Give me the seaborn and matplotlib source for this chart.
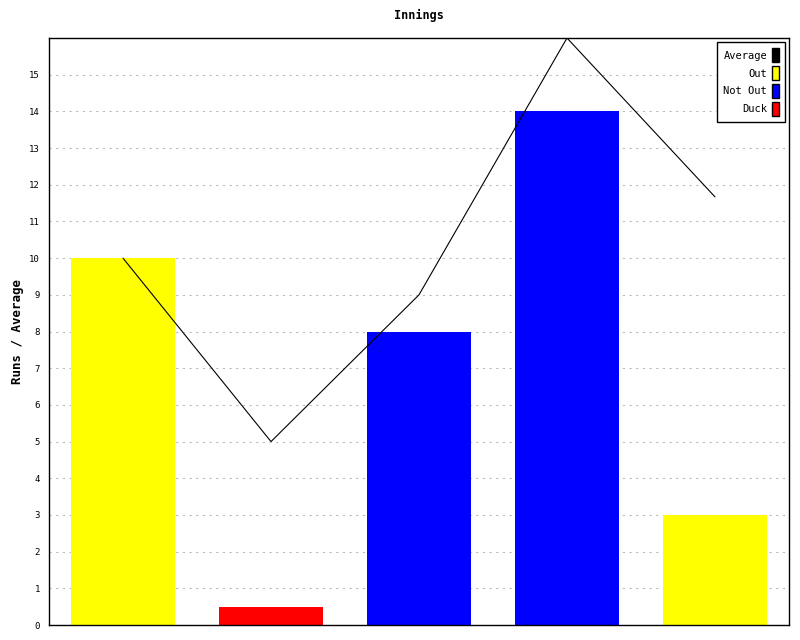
import pandas as pd
import matplotlib
matplotlib.use("Agg")
import matplotlib.pyplot as plt
import matplotlib.patches as mpatches
import seaborn as sns

# innings data
innings = ["1", "2", "3", "4", "5"]
runs = [10, 0.5, 8, 14, 3]
status = ["Out", "Duck", "Not Out", "Not Out", "Out"]
average = [10, 5, 9, 16, 11.67]

colors = {"Out": "#ffff00", "Not Out": "#0000ff", "Duck": "#ff0000"}

df = pd.DataFrame({"Innings": innings, "Runs": runs, "Status": status, "Average": average})

sns.set_style("white")
plt.rcParams["font.family"] = ["DejaVu Sans Mono"]
plt.rcParams["text.color"] = "black"
plt.rcParams["axes.labelcolor"] = "black"
plt.rcParams["ytick.color"] = "black"

fig = plt.figure(figsize=(8, 6.4), dpi=100)
ax = fig.add_axes([0.06125, 0.0234, 0.925, 0.9172])

sns.barplot(data=df, x="Innings", y="Runs", hue="Status", palette=colors,
            dodge=False, width=0.7, saturation=1, legend=False, linewidth=0, ax=ax)
sns.lineplot(x=range(len(innings)), y=df["Average"], color="black", linewidth=0.8, ax=ax)

ax.set_xlim(-0.5, 4.5)
ax.set_ylim(0, 16)
ax.set_yticks(range(0, 16))
ax.set_xticks([])
ax.set_xlabel("")
ax.set_ylabel("Runs / Average", fontsize=9, fontweight="bold")
ax.set_title("Innings", fontsize=8.5, fontweight="bold", pad=14)
ax.tick_params(axis="y", labelsize=6.5, direction="inout", length=6, width=1)
ax.yaxis.grid(True, linestyle=(0, (2, 4)), color="#bbbbbb", linewidth=0.8)
ax.set_axisbelow(True)
for s in ax.spines.values():
    s.set_color("black")
    s.set_linewidth(1)

handles = [mpatches.Patch(facecolor=c, edgecolor="black", label=l)
           for l, c in [("Average", "black"), ("Out", colors["Out"]),
                        ("Not Out", colors["Not Out"]), ("Duck", colors["Duck"])]]
leg = ax.legend(handles=handles, loc="upper right", markerfirst=False, fontsize=7.5,
                handlelength=0.6, handleheight=1.7, handletextpad=0.5,
                fancybox=False, framealpha=1, edgecolor="black", borderpad=0.6,
                labelspacing=0.35, borderaxespad=0.4)
leg.get_frame().set_linewidth(1)

fig.savefig("out.png", dpi=100)
